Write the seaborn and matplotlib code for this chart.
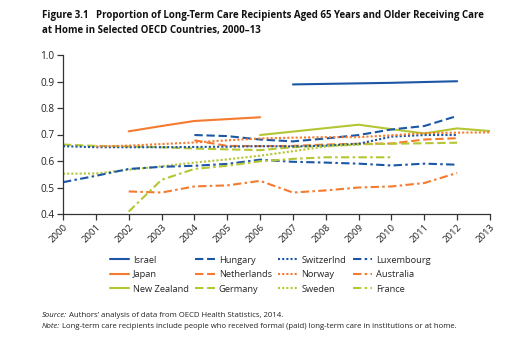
import matplotlib
matplotlib.use("Agg")
import matplotlib.pyplot as plt
import seaborn as sns
import pandas as pd

# Share of long-term care recipients aged 65+ receiving care at home
years_all = list(range(2000, 2014))

israel = [0.889, 0.891, 0.893, 0.895, 0.898, 0.901]          # 2007-2012
japan = [0.712, 0.732, 0.751, 0.758, 0.765]                   # 2002-2006
new_zealand = [0.698, 0.711, 0.724, 0.737, 0.720, 0.704, 0.723, 0.713]  # 2006-2013
hungary = [0.698, 0.694, 0.681, 0.674, 0.685, 0.698, 0.719, 0.732, 0.770]  # 2004-2012
netherlands = [0.678, 0.657, 0.656, 0.657, 0.662, 0.665, 0.666, 0.681, 0.686]  # 2004-2012
germany = [0.662, 0.657, 0.655, 0.652, 0.647, 0.644, 0.641, 0.652, 0.658,
           0.663, 0.665, 0.667, 0.669]                           # 2000-2012
switzerland = [0.656, 0.652, 0.652, 0.652, 0.653, 0.654, 0.656, 0.655, 0.658,
               0.665, 0.692, 0.698, 0.698]                       # 2000-2012
norway = [0.655, 0.658, 0.664, 0.670, 0.678, 0.685, 0.688, 0.690, 0.690,
          0.697, 0.705, 0.707, 0.708]                            # 2001-2013
sweden = [0.552, 0.553, 0.567, 0.580, 0.594, 0.606, 0.620, 0.637, 0.655, 0.662]  # 2000-2009
luxembourg = [0.520, 0.544, 0.570, 0.578, 0.582, 0.589, 0.605, 0.597, 0.594,
              0.590, 0.583, 0.590, 0.586]                        # 2000-2012
australia = [0.485, 0.481, 0.504, 0.508, 0.525, 0.481, 0.489, 0.500, 0.504,
             0.517, 0.555]                                       # 2002-2012
france = [0.409, 0.529, 0.570, 0.582, 0.599, 0.608, 0.614, 0.614, 0.614]  # 2002-2010

countries = ["Israel", "Japan", "New Zealand", "Hungary", "Netherlands", "Germany",
             "Switzerlnd", "Norway", "Sweden", "Luxembourg", "Australia", "France"]
series = [israel, japan, new_zealand, hungary, netherlands, germany,
          switzerland, norway, sweden, luxembourg, australia, france]
start_years = [2007, 2002, 2006, 2004, 2004, 2000, 2000, 2001, 2000, 2000, 2002, 2002]

BLUE = "#1b57a5"
ORANGE = "#f47b2f"
GREEN = "#b5c633"
palette = {
    "Israel": BLUE, "Japan": ORANGE, "New Zealand": GREEN,
    "Hungary": BLUE, "Netherlands": ORANGE, "Germany": GREEN,
    "Switzerlnd": BLUE, "Norway": ORANGE, "Sweden": GREEN,
    "Luxembourg": BLUE, "Australia": ORANGE, "France": GREEN,
}
solid, dashed, dotted, dashdot = "", (4, 1.8), (1, 1), (4, 1.6, 1.2, 1.6)
dash_map = {
    "Israel": solid, "Japan": solid, "New Zealand": solid,
    "Hungary": dashed, "Netherlands": dashed, "Germany": dashed,
    "Switzerlnd": dotted, "Norway": dotted, "Sweden": dotted,
    "Luxembourg": dashdot, "Australia": dashdot, "France": dashdot,
}

rows = []
for name, vals, y0 in zip(countries, series, start_years):
    for i, v in enumerate(vals):
        rows.append({"Year": y0 + i, "Share": v, "Country": name})
df = pd.DataFrame(rows)

sns.set_style("ticks")
plt.rcParams["font.family"] = ["Open Sans", "DejaVu Sans"]

fig = plt.figure(figsize=(5.32, 3.38), dpi=100)
ax = fig.add_axes([63 / 532, 1 - 214 / 338, 427 / 532, 159 / 338])

sns.lineplot(data=df, x="Year", y="Share", hue="Country", style="Country",
             hue_order=countries, style_order=countries,
             palette=palette, dashes=dash_map, linewidth=1.5, ax=ax)

ax.set_xlim(2000, 2013)
ax.set_ylim(0.4, 1.0)
ax.set_xticks(years_all)
ax.set_xticklabels([str(y) for y in years_all], rotation=45, ha="right",
                   rotation_mode="anchor", fontsize=6.8, color="#222222")
ax.set_yticks([0.4, 0.5, 0.6, 0.7, 0.8, 0.9, 1.0])
ax.set_yticklabels(["0.4", "0.5", "0.6", "0.7", "0.8", "0.9", "1.0"],
                   fontsize=7.2, color="#222222")
ax.tick_params(axis="both", length=4, width=0.9, color="#333333", pad=2)
ax.set_xlabel("")
ax.set_ylabel("")
for side in ("top", "right"):
    ax.spines[side].set_visible(False)
for side in ("left", "bottom"):
    ax.spines[side].set_color("#333333")
    ax.spines[side].set_linewidth(0.9)

handles, labels = ax.get_legend_handles_labels()
ax.get_legend().remove()
fig.legend(handles, labels, ncol=4, loc="upper left",
           bbox_to_anchor=(106 / 532, 1 - 252 / 338), frameon=False,
           fontsize=6.7, handlelength=2.1, columnspacing=0.7,
           labelspacing=0.58, handletextpad=0.4, borderaxespad=0)

fig.text(42 / 532, 1 - 10 / 338,
         "Figure 3.1   Proportion of Long-Term Care Recipients Aged 65 Years and Older Receiving Care\n"
         "at Home in Selected OECD Countries, 2000\u201313",
         fontsize=7.0, fontweight="bold", va="top", ha="left", linespacing=1.5,
         color="#111111")

src = fig.text(42 / 532, 1 - 317 / 338, "Source:", fontsize=5.6,
               fontstyle="italic", va="baseline", ha="left", color="#222222")
ax.annotate(" Authors\u2019 analysis of data from OECD Health Statistics, 2014.",
            xy=(1, 0), xycoords=src, va="bottom", ha="left",
            fontsize=5.6, color="#222222", annotation_clip=False)
note = fig.text(42 / 532, 1 - 328 / 338, "Note:", fontsize=5.6,
                fontstyle="italic", va="baseline", ha="left", color="#222222")
ax.annotate(" Long-term care recipients include people who received formal (paid) "
            "long-term care in institutions or at home.",
            xy=(1, 0), xycoords=note, va="bottom", ha="left",
            fontsize=5.6, color="#222222", annotation_clip=False)

fig.savefig("out.png", dpi=100)
